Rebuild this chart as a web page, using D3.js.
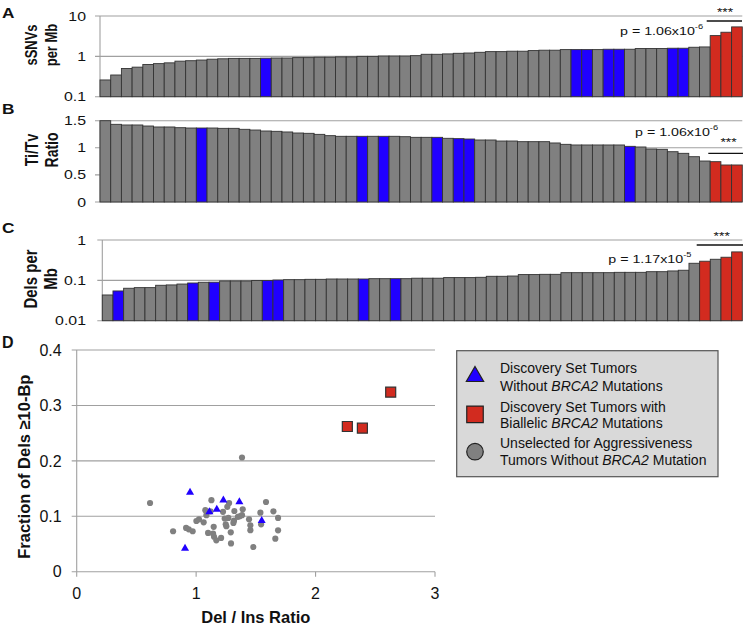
<!DOCTYPE html>
<html><head><meta charset="utf-8">
<script src="https://cdn.jsdelivr.net/npm/d3@7"></script>
<style>
body{margin:0;background:#fff}
svg{display:block}
text{font-family:"Liberation Sans",Arial,Helvetica,sans-serif;fill:#111}
</style>
</head><body>
<svg id="chart" width="744" height="629"></svg>
<script>
// ---------------- DATA ----------------
const barIndex = d3.range(60);
const ssnvsPerMb = [0.26,0.345,0.50,0.54,0.63,0.66,0.69,0.76,0.78,0.81,0.85,0.87,0.89,0.89,0.89,0.90,0.91,0.91,0.93,0.93,0.95,0.95,0.97,0.97,1.0,1.0,
  1.02,1.02,1.02,1.04,1.125,1.125,1.15,1.19,1.21,1.26,1.31,1.31,1.34,1.34,1.39,1.42,1.42,1.47,1.47,1.47,1.47,1.50,1.50,1.50,1.56,1.56,1.56,1.59,1.59,1.68,1.71,3.27,3.96,5.37];
const titvRatio = [1.50,1.433,1.421,1.421,1.402,1.384,1.384,1.371,1.365,1.365,1.365,1.359,1.359,1.341,1.328,1.31,1.304,1.292,1.273,1.267,1.248,1.224,1.212,1.212,1.212,1.212,
  1.212,1.212,1.205,1.193,1.193,1.193,1.175,1.169,1.162,1.144,1.144,1.125,1.125,1.113,1.113,1.113,1.089,1.064,1.052,1.052,1.052,1.052,1.052,1.027,1.015,0.978,0.972,0.928,0.898,0.836,0.756,0.744,0.683,0.683];
const delsPerMb = [0.0434,0.0546,0.0637,0.066,0.066,0.0755,0.077,0.081,0.086,0.0896,0.09,0.0966,0.0966,0.0966,0.099,0.099,0.102,0.104,0.104,0.106,0.106,0.108,0.108,0.108,0.108,0.11,
  0.11,0.11,0.11,0.113,0.113,0.113,0.117,0.117,0.117,0.119,0.126,0.126,0.128,0.139,0.139,0.141,0.141,0.155,0.155,0.155,0.155,0.155,0.158,0.158,0.158,0.164,0.164,0.171,0.178,0.265,0.298,0.333,0.374,0.507];
const blueA = [15,44,45,47,48,53,54], redA = [57,58,59];
const blueB = [9,24,26,31,33,34,49], redB = [57,58,59];
const blueC = [1,8,10,15,16,24,27], redC = [56,58,59];
const ticksA = [0.1,1,10], tickLabelsA = ["0.1","1","10"];
const ticksB = [0,0.5,1,1.5], tickLabelsB = ["0","0.5","1","1.5"];
const ticksC = [0.01,0.1,1], tickLabelsC = ["0.01","0.1","1"];
const pTextA = ["p = 1.06x10","-6"], pTextB = ["p = 1.06x10","-6"], pTextC = ["p = 1.17x10","-5"];

// Panel D scatter
const grayX = [0.614,0.807,0.916,0.938,0.971,1.002,1.024,1.063,1.077,1.086,1.100,1.128,1.147,1.142,1.15,1.169,1.209,1.225,1.239,1.248,1.253,1.261,1.276,1.290,1.292,1.312,1.317,1.320,1.365,1.384,1.390,1.443,1.454,1.454,1.479,1.538,1.544,1.585,1.647,1.663,1.686,1.686,1.384,1.12,1.27,1.35];
const grayY = [0.124,0.073,0.079,0.0765,0.073,0.0915,0.0945,0.089,0.111,0.102,0.070,0.129,0.081,0.0686,0.063,0.0566,0.061,0.108,0.096,0.0855,0.082,0.117,0.124,0.071,0.051,0.088,0.092,0.1095,0.100,0.102,0.1125,0.0945,0.0837,0.075,0.0446,0.1065,0.0855,0.1258,0.109,0.0596,0.097,0.0747,0.206,0.109,0.097,0.099];
const blueX = [0.949,1.111,1.173,1.228,1.362,1.549,0.907];
const blueY = [0.143,0.108,0.1125,0.129,0.126,0.092,0.042];
const redX = [2.266,2.392,2.629];
const redY = [0.262,0.259,0.324];
const xTicksD = [0,1,2,3], yTicksD = [0,0.1,0.2,0.3,0.4];
const legendItems = [
  {sym:"triangle", lines:[["Discovery Set Tumors"],["Without ","*BRCA2"," Mutations"]]},
  {sym:"square", lines:[["Discovery Set Tumors with"],["Biallelic ","*BRCA2"," Mutations"]]},
  {sym:"circle", lines:[["Unselected for Aggressiveness"],["Tumors Without ","*BRCA2"," Mutation"]]}
];

// ---------------- STYLE ----------------
const GRAY = "#808080", BLUE = "#2000ff", RED = "#d22b1f", EDGE = "#333", GRID = "#a0a0a0";
const SX = 1.26; // horizontal stretch of top panels' text
const svg = d3.select("#chart");

function stext(g, x, y, str, o = {}) {
  const t = g.append("text")
    .attr("transform", `translate(${x},${y}) scale(${o.sx || SX},1)` + (o.rot ? " rotate(-90)" : ""))
    .attr("text-anchor", o.anchor || "start")
    .style("font-size", (o.size || 12.5) + "px")
    .style("font-weight", o.bold ? "bold" : "normal")
    .text(str);
  if (o.dy) t.attr("dy", o.dy);
  return t;
}

function barPanel(cfg) {
  const g = svg.append("g");
  const x = d3.scaleBand().domain(barIndex).range([cfg.x0, 742.3]).padding(0);
  const y = cfg.y;
  g.selectAll(".grid").data(cfg.ticks).join("line")
    .attr("x1", cfg.x0 - 5).attr("x2", 742.3)
    .attr("y1", d => y(d)).attr("y2", d => y(d))
    .attr("stroke", GRID).attr("stroke-width", 1.1);
  g.append("line").attr("x1", cfg.x0).attr("x2", cfg.x0)
    .attr("y1", y(cfg.ticks[0])).attr("y2", y(cfg.ticks[cfg.ticks.length - 1]))
    .attr("stroke", GRID).attr("stroke-width", 1.1);
  const base = y(cfg.ticks[0]);
  g.selectAll(".bar").data(cfg.values).join("rect")
    .attr("x", (d, i) => x(i)).attr("width", x.bandwidth())
    .attr("y", d => y(d)).attr("height", d => base - y(d))
    .attr("fill", (d, i) => cfg.red.includes(i) ? RED : cfg.blue.includes(i) ? BLUE : GRAY)
    .attr("stroke", EDGE).attr("stroke-width", 0.9);
  cfg.ticks.forEach((t, k) => stext(g, 86, y(t), cfg.tickLabels[k], {anchor: "end", dy: "0.36em", size: 12.6}));
  cfg.title.forEach((ln, k) => stext(g, cfg.titleX[k], cfg.titleY, ln, {anchor: "middle", bold: true, rot: true, size: cfg.titleSize || 13}));
  stext(g, 2, cfg.letterY, cfg.letter, {bold: true, size: 15, sx: 1.15});
  g.append("line").attr("x1", cfg.sig.x1).attr("x2", cfg.sig.x2).attr("y1", cfg.sig.y).attr("y2", cfg.sig.y)
    .attr("stroke", "#111").attr("stroke-width", 1.3);
  stext(g, cfg.sig.sx, cfg.sig.sy, "***", {anchor: "middle", size: 11});
  const pt = stext(g, cfg.sig.px, cfg.sig.py, "", {size: 11.5, sx: 1.24});
  pt.append("tspan").text(cfg.p[0]);
  pt.append("tspan").attr("dy", -6).style("font-size", "7.5px").text(cfg.p[1]);
}

barPanel({letter: "A", letterY: 18.3, values: ssnvsPerMb, x0: 100,
  y: d3.scaleLog().domain([0.1, 10]).range([96.7, 16]), ticks: ticksA, tickLabels: tickLabelsA,
  blue: blueA, red: redA, title: ["sSNVs", "per Mb"], titleX: [37, 56.5], titleY: 45,
  sig: {x1: 706.7, x2: 742, y: 21, sx: 725, sy: 15.5, px: 620, py: 35}, p: pTextA});
barPanel({letter: "B", letterY: 114, values: titvRatio, x0: 100,
  y: d3.scaleLinear().domain([0, 1.5]).range([202, 120.7]), ticks: ticksB, tickLabels: tickLabelsB,
  blue: blueB, red: redB, title: ["Ti/Tv", "Ratio"], titleX: [37.5, 58], titleY: 150, titleSize: 14,
  sig: {x1: 708.3, x2: 743, y: 153.3, sx: 728.5, sy: 146, px: 635, py: 135.7}, p: pTextB});
barPanel({letter: "C", letterY: 233.3, values: delsPerMb, x0: 102.3,
  y: d3.scaleLog().domain([0.01, 1]).range([320.7, 240]), ticks: ticksC, tickLabels: tickLabelsC,
  blue: blueC, red: redC, title: ["Dels per", "Mb"], titleX: [37, 57], titleY: 279, titleSize: 15,
  sig: {x1: 696.7, x2: 743, y: 245, sx: 721.7, sy: 240, px: 608.3, py: 263.3}, p: pTextC});

// ---------------- PANEL D ----------------
const gD = svg.append("g");
const xD = d3.scaleLinear().domain([0, 3]).range([76.7, 435]);
const yD = d3.scaleLinear().domain([0, 0.4]).range([571.7, 350]);
gD.selectAll(".gy").data(yTicksD).join("line")
  .attr("x1", xD(0) - 5).attr("x2", xD(3)).attr("y1", d => yD(d)).attr("y2", d => yD(d))
  .attr("stroke", GRID).attr("stroke-width", 1.1);
gD.append("line").attr("x1", xD(0)).attr("x2", xD(0)).attr("y1", yD(0.4)).attr("y2", yD(0))
  .attr("stroke", GRID).attr("stroke-width", 1.1);
gD.selectAll(".tx").data(xTicksD).join("line")
  .attr("x1", d => xD(d)).attr("x2", d => xD(d)).attr("y1", yD(0)).attr("y2", yD(0) + 5)
  .attr("stroke", GRID).attr("stroke-width", 1.1);
gD.selectAll(".ylab").data(yTicksD).join("text")
  .attr("x", 61.7).attr("y", d => yD(d)).attr("dy", "0.36em").attr("text-anchor", "end")
  .style("font-size", "16px").text(d => d === 0 ? "0" : d.toFixed(1));
gD.selectAll(".xlab").data(xTicksD).join("text")
  .attr("x", d => xD(d)).attr("y", 599).attr("text-anchor", "middle")
  .style("font-size", "16px").text(d => d);
gD.append("text").attr("x", 255.8).attr("y", 622.5).attr("text-anchor", "middle")
  .style("font-size", "16.5px").style("font-weight", "bold").text("Del / Ins Ratio");
gD.append("text").attr("transform", "translate(30,466.7) rotate(-90)").attr("text-anchor", "middle")
  .style("font-size", "16.5px").style("font-weight", "bold").text("Fraction of Dels \u226510-Bp");
gD.append("text").attr("x", 2).attr("y", 348.3).style("font-size", "16px").style("font-weight", "bold").text("D");

const circ = d3.symbol().type(d3.symbolCircle).size(30);
gD.selectAll(".gp").data(grayX).join("path")
  .attr("d", circ).attr("transform", (d, i) => `translate(${xD(d)},${yD(grayY[i])})`)
  .attr("fill", GRAY);
const tri = d3.symbol().type(d3.symbolTriangle).size(28);
gD.selectAll(".bp").data(blueX).join("path")
  .attr("d", tri).attr("transform", (d, i) => `translate(${xD(d)},${yD(blueY[i])})`)
  .attr("fill", BLUE);
const sq = d3.symbol().type(d3.symbolSquare).size(100);
gD.selectAll(".rp").data(redX).join("path")
  .attr("d", sq).attr("transform", (d, i) => `translate(${xD(d)},${yD(redY[i])})`)
  .attr("fill", RED).attr("stroke", EDGE).attr("stroke-width", 1.2);

// legend
const gL = svg.append("g");
gL.append("rect").attr("x", 456.7).attr("y", 350.7).attr("width", 261.3).attr("height", 126)
  .attr("fill", "#d9d9d9").attr("stroke", "#555").attr("stroke-width", 1.2);
const symCenters = [376.5, 414.3, 451.7];
const baselines = [[373.3, 390.5], [411.7, 428.3], [448.3, 465]];
const symGen = {triangle: d3.symbol().type(d3.symbolTriangle).size(130), square: d3.symbol().type(d3.symbolSquare).size(272), circle: d3.symbol().type(d3.symbolCircle).size(215)};
const symFill = {triangle: BLUE, square: RED, circle: GRAY};
legendItems.forEach((it, k) => {
  gL.append("path").attr("d", symGen[it.sym]).attr("transform", `translate(475,${symCenters[k]})`)
    .attr("fill", symFill[it.sym]).attr("stroke", "#222").attr("stroke-width", 1.2);
  it.lines.forEach((ln, j) => {
    const t = gL.append("text").attr("x", 500).attr("y", baselines[k][j]).style("font-size", "14px");
    ln.forEach(seg => {
      const ital = seg.startsWith("*");
      t.append("tspan").style("font-style", ital ? "italic" : "normal").text(ital ? seg.slice(1) : seg);
    });
  });
});
</script>
</body></html>
